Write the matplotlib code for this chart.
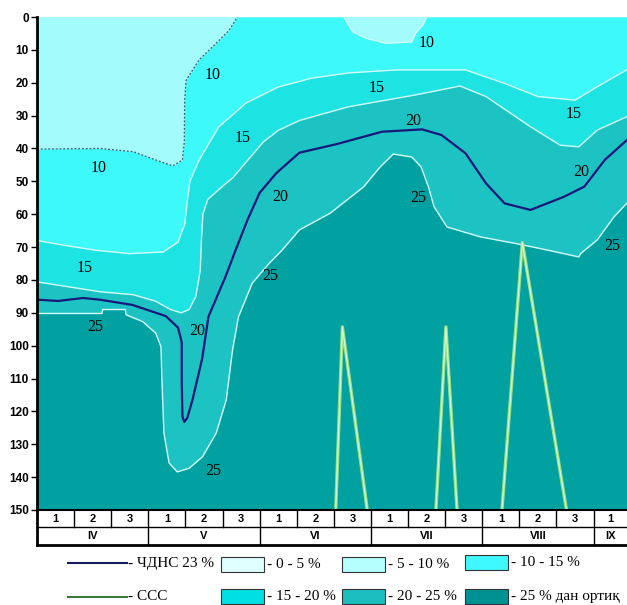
import numpy as np
import matplotlib.pyplot as plt
from matplotlib.patches import Rectangle
from matplotlib.lines import Line2D

# x = decades counted from the start of April, y = depth 0..150
# isoline 10 (edge of the 5-10 % zone, incl. the small patch on top)
A_x = [0, 1.7, 2.6, 3.2, 3.66, 3.92, 3.97, 3.98, 4.02, 4.37, 4.83, 5.18, 5.4,
       8.27, 8.5, 8.87, 9.4, 10.1, 10.2, 10.4, 10.5, 15.9]
A_y = [40.2, 40, 41, 43.5, 45.3, 43.5, 38, 25, 19.2, 13, 8, 4, 0,
       0, 4.5, 6.5, 8, 7.6, 5, 2.4, 0, 0]
# isoline 15
B_x = [0, 0.7, 1.6, 2.5, 3.4, 3.8, 3.98, 4.05, 4.12, 4.37, 4.9, 5.63, 6.5, 7.4,
       8.4, 9.7, 11.55, 12.6, 13.5, 14.5, 15.1, 15.9]
B_y = [68, 69.4, 71, 72, 71.5, 68.5, 63, 56, 50, 43.5, 33.4, 26.2, 21.3, 18.6,
       17, 16.1, 16.1, 20.2, 24.2, 25.3, 21.2, 16]
# isoline 20
C_x = [0, 0.8, 1.7, 2.6, 3.2, 3.6, 3.88, 4.1, 4.28, 4.4, 4.43, 4.47, 4.6, 5.0,
       5.27, 6.1, 6.5, 7.07, 7.6, 8.4, 10.2, 11.4, 12.1, 13.3, 14.1, 14.6, 15.1, 15.9]
C_y = [80.6, 82, 83.6, 84.5, 86.5, 89, 90, 89, 85, 77, 68, 60, 55.5, 51.5,
       49, 38, 34.5, 31.5, 29.8, 27.3, 23.7, 21, 24.2, 33.4, 39, 39.5, 34.4, 30.3]
# isoline 25
D_x = [0, 1.75, 1.77, 2.38, 2.4, 2.85, 3.2, 3.34, 3.37, 3.42, 3.56, 3.78, 4.1,
       4.46, 4.83, 5.1, 5.27, 5.43, 5.8, 6.26, 6.6, 7.07, 7.9, 8.8, 9.25, 9.6,
       10.1, 10.35, 10.55, 10.7, 11.05, 11.95, 12.85, 13.75, 14.6, 14.65, 15.1,
       15.55, 15.9]
D_y = [90.2, 90.2, 89, 89, 90.6, 92.7, 96.2, 100.3, 111.4, 126.6, 135.7, 138.4,
       137.3, 133.8, 126.6, 116.5, 101.3, 91.2, 81, 74.9, 71, 64.8, 59.7, 51.7,
       45.6, 41.7, 42.6, 45.6, 51.7, 57.7, 63.9, 66.9, 68.8, 70.9, 73, 72, 67.8,
       60.8, 56.6]
# ЧДНС 23 % line
U_x = [0, 0.57, 1.24, 1.69, 2.57, 3.47, 3.8, 3.9, 3.9, 3.92, 3.97, 4.05, 4.19,
       4.45, 4.62, 5.08, 5.35, 5.67, 6.0, 6.45, 7.07, 8.1, 9.3, 10.38, 10.9,
       11.55, 12.1, 12.6, 13.3, 14.2, 14.75, 15.3, 15.9]
U_y = [86, 86.4, 85.5, 86, 87.6, 91, 94.5, 99, 111, 121.7, 123.2, 122, 116.5,
       104, 91.2, 79, 71, 61.8, 53.5, 47.5, 41.3, 38.6, 34.9, 34.2, 35.9,
       41.5, 50.6, 56.7, 58.7, 54.7, 51.6, 43.5, 37.4]
# ССС peaks
G_x = [[8.05, 8.23, 8.9], [10.75, 11.02, 11.32], [12.53, 13.08, 14.27]]
G_y = [[150, 94.3, 150], [150, 94.3, 150], [150, 68.6, 150]]

lab_txt = ['10', '10', '10', '15', '15', '15', '15', '20', '20', '20', '20',
           '25', '25', '25', '25', '25']
lab_x = [4.74, 1.67, 10.51, 5.55, 1.29, 9.14, 14.45, 10.13, 6.55, 4.31, 14.66,
         10.27, 6.28, 1.56, 4.74, 15.5]
lab_y = [17.6, 45.9, 7.9, 36.8, 76.4, 21.6, 29.5, 31.6, 54.8, 95.5, 47.2,
         55.1, 78.8, 94.3, 138.1, 69.7]

decades = ['1', '2', '3'] * 5 + ['1']
months = ['IV', 'V', 'VI', 'VII', 'VIII', 'IX']

c_510 = '#a3fbfb'
c_1015 = '#3ef9f9'
c_1520 = '#1de3e3'
c_2025 = '#1dc3c3'
c_25 = '#02a1a1'
edge = '#d4fbfb'
serif = ['Liberation Serif', 'DejaVu Serif']
sans = ['Liberation Sans', 'DejaVu Sans']

fig = plt.figure(figsize=(6.27, 6.05), dpi=100)
ax = fig.add_axes([37/627, 1-510/605, 590/627, 493/605])
ax.set_facecolor(c_510)
ax.fill_between(A_x, A_y, 150, color=c_1015, lw=0)
ax.fill_between(B_x, B_y, 150, color=c_1520, lw=0)
ax.fill_between(C_x, C_y, 150, color=c_2025, lw=0)
ax.fill_between(D_x, D_y, 150, color=c_25, lw=0)

ax.plot(A_x[:13], A_y[:13], color='#3a5a6a', lw=0.9, ls=(0, (1.5, 1.5)))
ax.plot(A_x[13:21], A_y[13:21], color=edge, lw=0.9)
for xs, ys in [(B_x, B_y), (C_x, C_y), (D_x, D_y)]:
    ax.plot(xs, ys, color=edge, lw=1.0)
ax.plot(U_x, U_y, color='#18187a', lw=1.6)
for xs, ys in zip(G_x, G_y):
    ax.plot(xs, ys, color='#96e08c', lw=2.4)
    ax.plot(xs, ys, color='#e4ffd4', lw=0.7)

for t, x, y in zip(lab_txt, lab_x, lab_y):
    ax.text(x, y, t, ha='center', va='center', fontsize=11.5, family=serif)

ax.set_xlim(0, 15.9)
ax.set_ylim(150, 0)
ax.set_xticks([])
ax.set_yticks(range(0, 151, 10))
ax.tick_params(axis='y', length=4, width=1, labelsize=8.5, pad=2)
for lbl in ax.get_yticklabels():
    lbl.set_fontweight('bold')
    lbl.set_family(sans)
for s in ['top', 'right', 'bottom']:
    ax.spines[s].set_visible(False)
ax.spines['left'].set_linewidth(2)

# table with decades and months under the plot
tb = fig.add_axes([37/627, 1-545/605, 590/627, 35/605])
tb.set_xlim(0, 15.9)
tb.set_ylim(0, 35)
tb.axis('off')
tb.plot([0, 15.9], [35, 35], color='black', lw=1.5, clip_on=False)
tb.plot([0, 15.9], [18, 18], color='black', lw=1, clip_on=False)
tb.plot([0, 15.9], [0, 0], color='black', lw=2, clip_on=False)
tb.plot([0, 0], [0, 35], color='black', lw=2, clip_on=False)
for d in range(1, 16):
    y0 = 0 if d % 3 == 0 else 18
    tb.plot([d, d], [y0, 35], color='black', lw=1, clip_on=False)
for i, t in enumerate(decades):
    x = i + 0.5 if i < 15 else 15.45
    tb.text(x, 26.5, t, ha='center', va='center', fontsize=8, fontweight='bold', family=sans)
for i, t in enumerate(months):
    x = i * 3 + 1.5 if i < 5 else 15.45
    tb.text(x, 9, t, ha='center', va='center', fontsize=8, fontweight='bold', family=sans)

# legend drawn in figure pixels
def fx(px):
    return px / 627

def fy(py):
    return 1 - py / 605

fig.add_artist(Line2D([fx(68), fx(127)], [fy(563), fy(563)], color='#1a1a5e', lw=1.5))
fig.add_artist(Line2D([fx(68), fx(127)], [fy(597), fy(597)], color='#3b7a3b', lw=1.5))
fig.text(fx(128), fy(563), '- ЧДНС 23 %', va='center', fontsize=11, family=serif)
fig.text(fx(128), fy(597), '- ССС', va='center', fontsize=11, family=serif)

boxes = [(221, 557, '#e0ffff', '- 0 - 5 %'),
         (342, 557, '#b4ffff', '- 5 - 10 %'),
         (465, 555, '#40f8ff', '- 10 - 15 %'),
         (221, 589, '#00e0e4', '- 15 - 20 %'),
         (342, 589, '#1dbebe', '- 20 - 25 %'),
         (465, 589, '#009292', '- 25 % дан ортиқ')]
for px, py, col, txt in boxes:
    fig.add_artist(Rectangle((fx(px), fy(py + 15)), 43/627, 15/605,
                             facecolor=col, edgecolor='#333333', lw=0.8))
    fig.text(fx(px + 46), fy(py + 7.5), txt, va='center', fontsize=11, family=serif)

fig.savefig('out.png', dpi=100)
